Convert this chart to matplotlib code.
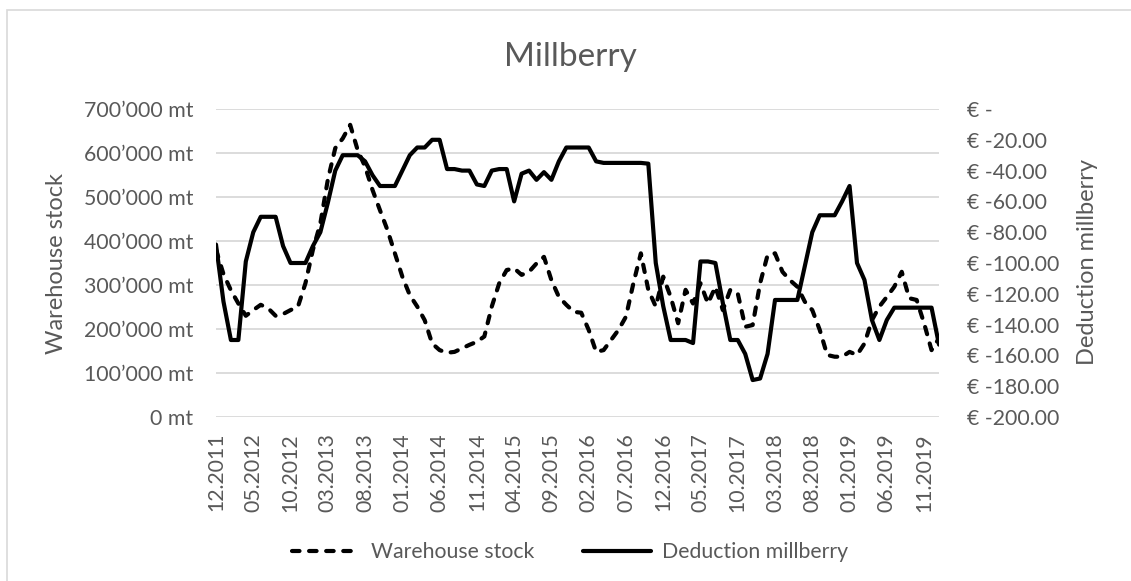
import matplotlib
matplotlib.use("Agg")
import matplotlib.pyplot as plt
from matplotlib.patches import Rectangle
from matplotlib.ticker import FuncFormatter, MultipleLocator

# ---- data (monthly, 12.2011 .. 01.2020) ----
tick_labels = ["12.2011", "05.2012", "10.2012", "03.2013", "08.2013", "01.2014",
               "06.2014", "11.2014", "04.2015", "09.2015", "02.2016", "07.2016",
               "12.2016", "05.2017", "10.2017", "03.2018", "08.2018", "01.2019",
               "06.2019", "11.2019"]

warehouse_stock = [  # thousand mt
    380, 325, 288, 258, 230, 243, 255, 247, 230, 234,
    243, 251, 304, 380, 440, 539, 611, 633, 664, 607,
    569, 516, 470, 425, 372, 319, 277, 251, 220, 167,
    152, 146, 148, 156, 164, 171, 183, 251, 304, 334,
    338, 323, 330, 349, 364, 311, 273, 255, 239, 237,
    198, 148, 152, 175, 198, 228, 304, 372, 289, 251,
    319, 273, 213, 289, 258, 304, 258, 296, 243, 289,
    281, 205, 209, 304, 368, 372, 330, 311, 296, 262,
    243, 198, 141, 137, 137, 148, 141, 167, 220, 251,
    273, 296, 330, 270, 266, 213, 152, 179]

deduction = [  # EUR
    -88, -125, -150, -150, -99, -80, -70, -70, -70, -89,
    -100, -100, -100, -89, -80, -61, -40, -30, -30, -30,
    -34, -43, -50, -50, -50, -40, -30, -25, -25, -20,
    -20, -39, -39, -40, -40, -49, -50, -40, -39, -39,
    -60, -42, -40, -46, -41, -46, -34, -25, -25, -25,
    -25, -34, -35, -35, -35, -35, -35, -35, -35.5, -100,
    -128, -150, -150, -150, -152, -99, -99, -100, -126, -150,
    -150, -159, -176, -175, -159, -124, -124, -124, -124, -102,
    -80, -69, -69, -69, -60, -50, -100, -111, -137, -150,
    -137, -129, -129, -129, -129, -129, -129, -153]

tick_step = 5

# ---- style ----
plt.rcParams['font.family'] = ['Lato', 'DejaVu Sans']
TXT = '#595959'
GRID = '#d9d9d9'
FS = 15.3       # tick labels / legend
FS_AX = 17      # axis titles
FS_T = 24       # chart title

W, H = 1131, 581
fig = plt.figure(figsize=(W / 100, H / 100), dpi=100)

# chart area border
fig.patches.append(Rectangle((7 / W, -0.1), 1.2, 1 - 10 / H + 0.1,
                             transform=fig.transFigure, fill=False,
                             edgecolor=GRID, linewidth=1.2))

L, R, T, B = 216, 939, 109, 417
ax = fig.add_axes([L / W, 1 - B / H, (R - L) / W, (B - T) / H])
ax2 = ax.twinx()

x = list(range(len(warehouse_stock)))
stock_mt = [v * 1000 for v in warehouse_stock]

l1, = ax.plot(x, stock_mt, color='black', linewidth=3.0,
              linestyle=(0, (1.8, 2.3)), dash_capstyle='round',
              dash_joinstyle='round', label='Warehouse stock')
l2, = ax2.plot(x, deduction, color='black', linewidth=3.0,
               solid_capstyle='round', solid_joinstyle='round',
               label='Deduction millberry')

ax.set_xlim(0, len(x) - 1)
ax.set_ylim(0, 700000)
ax2.set_ylim(-200, 0)

ax.yaxis.set_major_locator(MultipleLocator(100000))
ax.yaxis.set_major_formatter(FuncFormatter(
    lambda v, p: f"{int(v):,} mt".replace(",", "\u2019")))
ax2.yaxis.set_major_locator(MultipleLocator(20))
ax2.yaxis.set_major_formatter(FuncFormatter(
    lambda v, p: "\u20ac -" if abs(v) < 1e-9 else f"\u20ac {v:.2f}"))

ax.set_xticks(list(range(0, len(x), tick_step)))
ax.set_xticklabels(tick_labels, rotation=90, ha='center', va='top')

ax.grid(axis='y', color=GRID, linewidth=1.3)
ax.set_axisbelow(True)
for a in (ax, ax2):
    for s in a.spines.values():
        s.set_visible(False)

ax.tick_params(axis='y', length=0, pad=16.5, labelsize=FS, labelcolor=TXT)
ax.tick_params(axis='x', length=0, pad=11.5, labelsize=FS, labelcolor=TXT)
ax2.tick_params(axis='y', length=0, pad=20, labelsize=FS, labelcolor=TXT)

fig.text(570 / W, 1 - 57 / H, 'Millberry', ha='center', va='center',
         fontsize=FS_T, color=TXT, fontweight='normal')
fig.text(57 / W, 1 - 264 / H, 'Warehouse stock', rotation=90, ha='center',
         va='center', fontsize=FS_AX, color=TXT)
fig.text(1088 / W, 1 - 262 / H, 'Deduction millberry', rotation=90,
         ha='center', va='center', fontsize=FS_AX, color=TXT)

leg = fig.legend(handles=[l1, l2], loc='center', ncol=2, frameon=False,
                 bbox_to_anchor=(570 / W, 1 - 552 / H), fontsize=FS,
                 handlelength=3.2, columnspacing=2.3, handletextpad=0.5)
for t in leg.get_texts():
    t.set_color(TXT)

fig.savefig('out.png', dpi=100)
